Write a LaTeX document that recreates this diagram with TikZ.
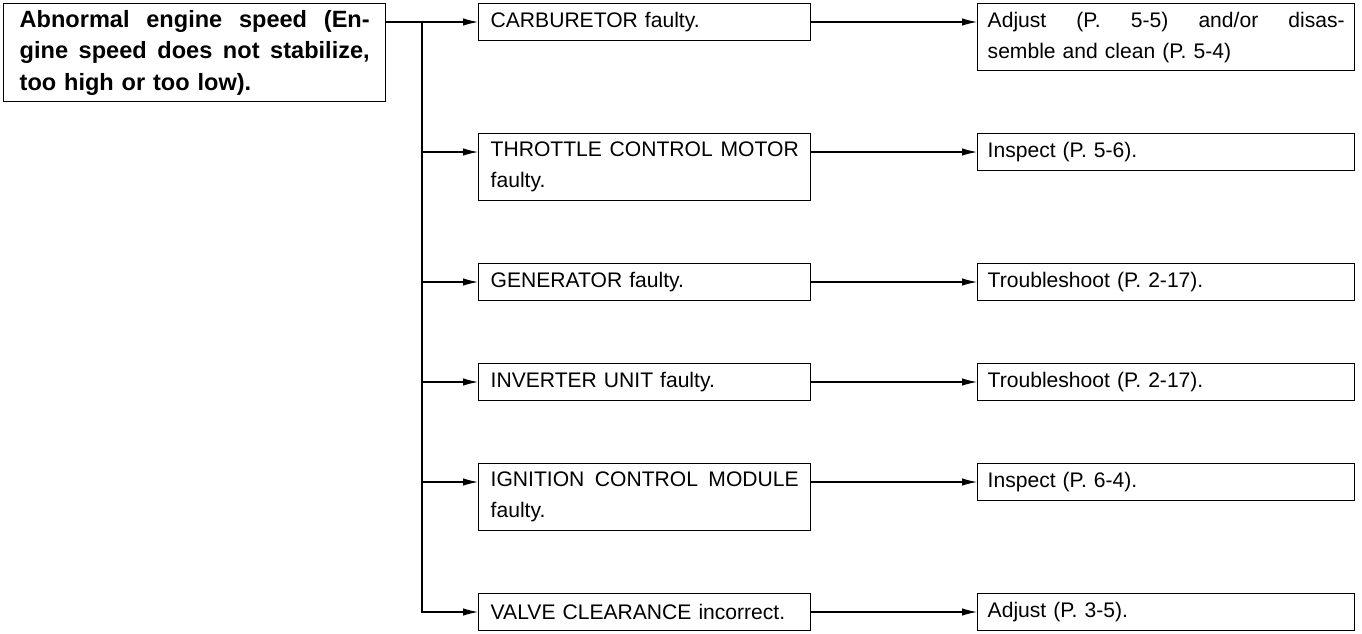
\documentclass[tikz,border=0pt]{standalone}
\usepackage{fontspec}
\setmainfont{Liberation Sans}
\usetikzlibrary{arrows.meta}
\newcommand{\fillline}[2]{\makebox[#1][s]{\spaceskip=0pt\relax #2}}

\begin{document}
\begin{tikzpicture}[
  box/.style={draw, line width=0.8pt, anchor=north west, align=left, font=\fontsize{12}{17.6}\selectfont},
  midbox/.style={box, text width=6.16cm, inner xsep=0.24cm, minimum height=0.74cm},
  fixbox/.style={box, text width=7.14cm, inner xsep=0.2cm, minimum height=0.74cm},
  link/.style={line width=0.6pt, -{Latex[length=3mm,width=1.5mm]}}
]
\useasboundingbox (0,0) rectangle (27.24,-12.66);
\node[box, text width=7cm, inner xsep=0.32cm, minimum height=1.96cm, font=\fontsize{13.4}{17.8}\selectfont\bfseries] (prob) at (0.06,-0.06)
  {\fillline{7cm}{Abnormal engine speed (En-}\\\fillline{7cm}{gine speed does not stabilize,}\\too high or too low).};

\coordinate (r1) at (0,-0.44);
\coordinate (r2) at (0,-3.04);
\coordinate (r3) at (0,-5.64);
\coordinate (r4) at (0,-7.64);
\coordinate (r5) at (0,-9.64);
\coordinate (r6) at (0,-12.24);
\coordinate (trunk) at (8.44,-0.44);

\node[midbox] (carb) at (9.56,-0.06) {CARBURETOR faulty.};
\node[midbox, minimum height=1.34cm] (thr) at (9.56,-2.66) {\fillline{6.16cm}{THROTTLE CONTROL MOTOR}\\faulty.};
\node[midbox] (gen) at (9.56,-5.26) {GENERATOR faulty.};
\node[midbox] (inv) at (9.56,-7.26) {INVERTER UNIT faulty.};
\node[midbox, minimum height=1.34cm] (ign) at (9.56,-9.26) {\fillline{6.16cm}{IGNITION CONTROL MODULE}\\faulty.};
\node[midbox] (valve) at (9.56,-11.86) {VALVE CLEARANCE incorrect.};

\node[fixbox, minimum height=1.34cm] (fix1) at (19.54,-0.06) {\fillline{7.14cm}{Adjust (P. 5-5) and/or disas-}\\semble and clean (P. 5-4)};
\node[fixbox] (fix2) at (19.54,-2.66) {Inspect (P. 5-6).};
\node[fixbox] (fix3) at (19.54,-5.26) {Troubleshoot (P. 2-17).};
\node[fixbox] (fix4) at (19.54,-7.26) {Troubleshoot (P. 2-17).};
\node[fixbox] (fix5) at (19.54,-9.26) {Inspect (P. 6-4).};
\node[fixbox] (fix6) at (19.54,-11.86) {Adjust (P. 3-5).};

\draw[link] (prob.east |- r1) -- (carb.west |- r1);
\draw[link] (trunk) -- (trunk |- r6) -- (valve.west |- r6);
\foreach \n/\r in {thr/r2, gen/r3, inv/r4, ign/r5}
  \draw[link] (trunk |- \r) -- (\n.west |- \r);
\foreach \a/\b/\r in {carb/fix1/r1, thr/fix2/r2, gen/fix3/r3, inv/fix4/r4, ign/fix5/r5, valve/fix6/r6}
  \draw[link] (\a.east |- \r) -- (\b.west |- \r);
\end{tikzpicture}
\end{document}
